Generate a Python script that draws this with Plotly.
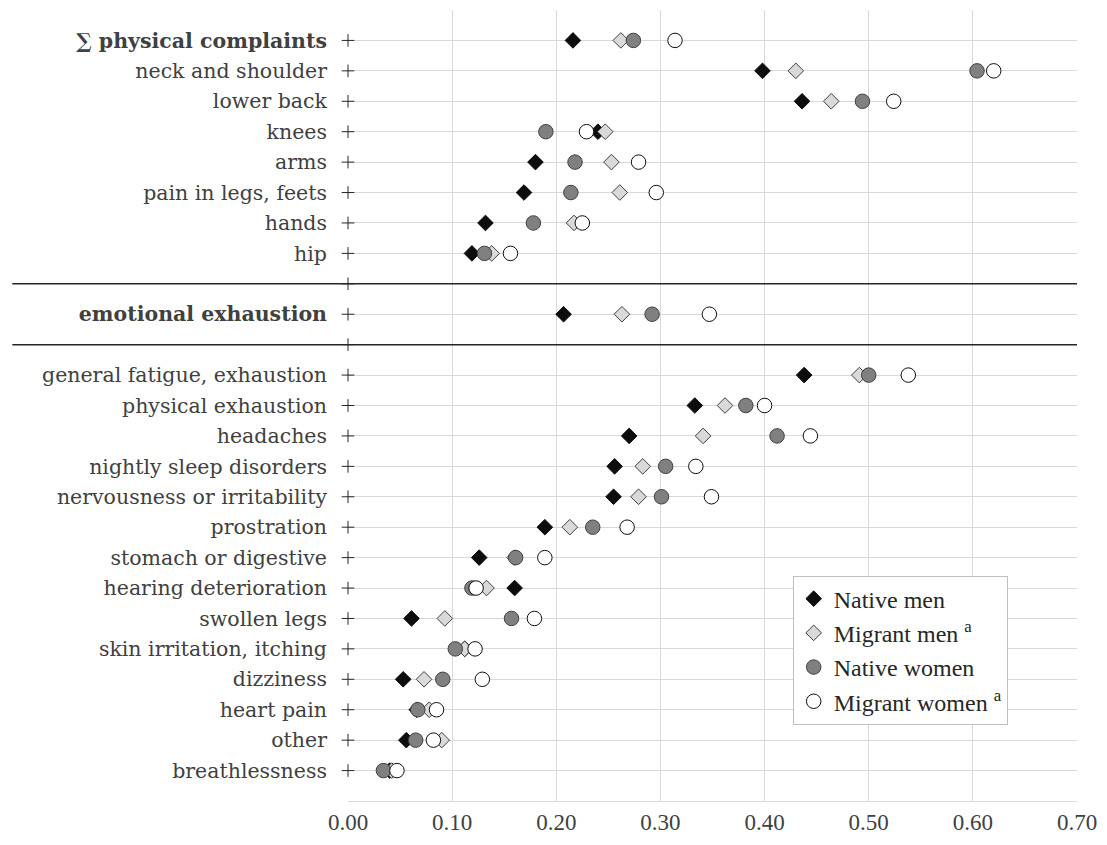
import plotly.graph_objects as go

# ---- data (top row first) ----
row_labels = [
    "<b>∑ physical complaints</b>", "neck and shoulder", "lower back", "knees", "arms",
    "pain in legs, feets", "hands", "hip", "",
    "<b>emotional exhaustion</b>", "",
    "general fatigue, exhaustion", "physical exhaustion", "headaches",
    "nightly sleep disorders", "nervousness or irritability", "prostration",
    "stomach or digestive", "hearing deterioration", "swollen legs",
    "skin irritation, itching", "dizziness", "heart pain", "other", "breathlessness",
]
native_men = [0.216, 0.398, 0.436, 0.240, 0.180, 0.169, 0.132, 0.119, None,
              0.207, None,
              0.438, 0.333, 0.270, 0.256, 0.255, 0.189, 0.126, 0.160, 0.061,
              0.112, 0.053, 0.066, 0.056, 0.040]
migrant_men = [0.262, 0.430, 0.464, 0.247, 0.253, 0.261, 0.217, 0.138, None,
               0.263, None,
               0.491, 0.362, 0.341, 0.283, 0.279, 0.213, 0.160, 0.133, 0.093,
               0.112, 0.073, 0.078, 0.090, 0.042]
native_women = [0.274, 0.604, 0.494, 0.190, 0.218, 0.214, 0.178, 0.131, None,
                0.292, None,
                0.500, 0.382, 0.412, 0.305, 0.301, 0.235, 0.161, 0.119, 0.157,
                0.103, 0.091, 0.067, 0.065, 0.034]
migrant_women = [0.314, 0.620, 0.524, 0.229, 0.279, 0.296, 0.225, 0.156, None,
                 0.347, None,
                 0.538, 0.400, 0.444, 0.334, 0.349, 0.268, 0.189, 0.123, 0.179,
                 0.122, 0.129, 0.085, 0.082, 0.047]
x_ticks = [0.0, 0.1, 0.2, 0.3, 0.4, 0.5, 0.6, 0.7]
x_tick_labels = ["0.00", "0.10", "0.20", "0.30", "0.40", "0.50", "0.60", "0.70"]

pos = list(range(1, len(row_labels) + 1))
separators = [p for p, lab in zip(pos, row_labels) if lab == ""]

fig = go.Figure()

# axis "+" markers (one per row)
fig.add_trace(go.Scatter(
    x=[0] * len(pos), y=pos, mode="markers", showlegend=False, hoverinfo="skip",
    marker=dict(symbol="cross-thin", size=9, line=dict(color="#262626", width=1)),
    cliponaxis=False,
))

series = [
    ("Native men", native_men, "diamond", 12, "#0d0d0d", "#0d0d0d"),
    ("Migrant men <sup>a</sup>", migrant_men, "diamond", 12, "#d9d9d9", "#404040"),
    ("Native women", native_women, "circle", 14.5, "#808080", "#404040"),
    ("Migrant women <sup>a</sup>", migrant_women, "circle", 14.5, "#ffffff", "#0d0d0d"),
]
for name, vals, sym, size, fill, edge in series:
    fig.add_trace(go.Scatter(
        x=vals, y=pos, mode="markers", name=name,
        marker=dict(symbol=sym, size=size, color=fill, line=dict(color=edge, width=1)),
        cliponaxis=False,
    ))

for s in separators:
    fig.add_shape(type="line", xref="paper", yref="y", x0=-0.4605, x1=1, y0=s, y1=s,
                  line=dict(color="#262626", width=1.5), layer="above")

fig.update_layout(
    width=1107, height=845,
    margin=dict(l=348, r=25, t=10, b=43),
    paper_bgcolor="white", plot_bgcolor="white",
    font=dict(family="Liberation Serif", color="#404040"),
    legend=dict(
        x=0.61, y=0.285, xanchor="left", yanchor="top",
        bgcolor="white", bordercolor="#bfbfbf", borderwidth=1,
        font=dict(family="Liberation Serif", size=24, color="#262626"),
        itemwidth=30, tracegroupgap=0,
    ),
    xaxis=dict(
        range=[0, 0.7], tickvals=x_ticks, ticktext=x_tick_labels,
        showgrid=True, gridcolor="#d9d9d9", gridwidth=1,
        showline=True, linecolor="#d9d9d9", mirror=False,
        zeroline=False, ticks="",
        tickfont=dict(family="Liberation Serif", size=23, color="#404040"),
    ),
    yaxis=dict(
        range=[len(pos) + 1, 0], tickvals=pos, ticktext=row_labels,
        showgrid=True, gridcolor="#d9d9d9", gridwidth=1,
        zeroline=False, showline=False, ticks="",
        ticklabelstandoff=20,
        tickfont=dict(family="DejaVu Serif", size=20.5, color="#404040"),
    ),
)

fig.write_html("out.html")
